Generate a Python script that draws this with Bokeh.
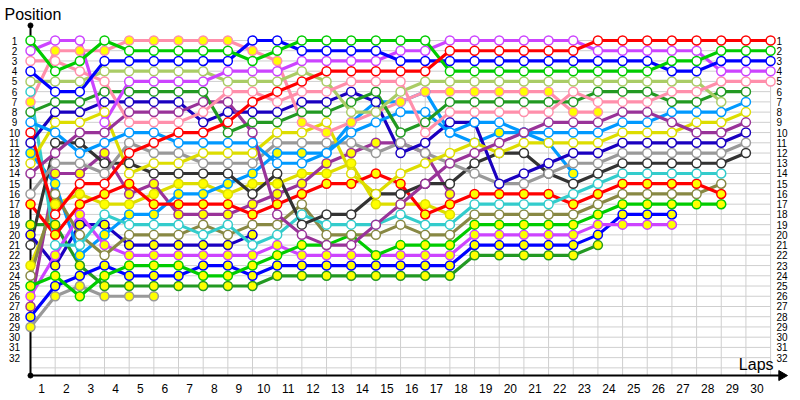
from bokeh.plotting import figure
from bokeh.models import Range1d
from bokeh.embed import file_html
from bokeh.resources import INLINE
from bokeh.core.properties import value

N = None
laps = list(range(0, 31))
lap_labels = [str(k) for k in range(1, 31)]
pos_labels = [str(k) for k in range(1, 33)]

# positions at lap 0..30 (None = not running)
red_w    = [10,18,15,15,12,11,10,10,9,7,6,5,4,4,4,4,4,2,2,2,2,2,2,1,1,1,1,1,1,1,1]
green_w  = [1,4,3,1,2,2,2,2,2,3,2,1,1,1,1,1,1,4,4,4,4,4,4,4,4,4,3,3,2,2,2]
blue_w   = [4,6,6,3,3,3,3,3,3,1,1,2,2,2,2,3,3,3,3,3,3,3,3,3,3,3,4,4,3,3,3]
purple_w = [2,1,1,9,5,5,5,5,4,4,4,3,3,3,3,2,2,1,1,1,1,1,1,2,2,2,2,2,4,4,4]
pink_w   = [3,3,4,5,9,9,9,8,6,6,7,6,6,5,5,5,10,8,8,8,8,8,6,7,7,7,6,6,5,5,5]
pink_y   = [7,2,2,2,1,1,1,1,1,2,3,9,10,9,8,7,6,6,6,6,6,6,8,8,N,N,N,N,N,N,N]
ygreen_w = [5,5,5,4,4,4,4,4,5,5,5,4,5,8,8,6,5,5,5,5,5,5,5,5,5,5,5,5,7,N,N]
dgreen_w = [8,7,7,6,6,6,6,6,10,9,9,8,8,7,6,10,9,7,7,7,7,7,7,6,6,6,7,7,6,6,N]
lblue_w  = [9,10,12,11,10,10,11,11,11,11,13,13,12,10,9,8,8,10,9,9,10,10,10,10,9,9,8,8,8,7,N]
lblue_y  = [12,15,22,20,18,18,16,16,15,14,12,12,12,9,7,7,6,10,11,10,10,11,14,N,N,N,N,N,N,N,N]
dblue_w  = [11,8,8,7,7,7,7,9,8,8,8,7,7,6,7,12,11,9,9,15,14,13,12,12,11,11,11,11,11,10,N]
dblue_y  = [20,23,19,19,21,21,21,21,21,20,N,N,N,N,N,N,N,N,N,N,N,N,N,N,N,N,N,N,N,N,N]
dpurple_w= [14,12,10,10,8,8,8,7,7,10,18,20,21,21,19,17,15,13,12,11,10,9,9,9,8,8,9,10,10,9,N]
dpurple_y= [27,14,14,12,16,15,18,18,18,17,16,15,13,12,11,11,12,16,N,N,N,N,N,N,N,N,N,N,N,N,N]
yellow_w = [13,9,9,8,14,13,13,12,12,12,10,10,9,14,16,14,13,12,11,12,11,11,11,11,10,10,10,9,9,8,N]
yellow_y = [23,17,16,17,17,16,15,15,16,15,15,14,14,13,17,17,17,18,N,N,N,N,N,N,N,N,N,N,N,N,N]
gray_w   = [16,13,13,14,11,12,12,13,13,13,11,11,11,11,12,11,12,13,14,15,15,14,13,13,12,12,12,12,12,11,N]
gray_y   = [29,26,25,26,26,26,N,N,N,N,N,N,N,N,N,N,N,N,N,N,N,N,N,N,N,N,N,N,N,N,N]
dgray_w  = [21,11,11,13,13,14,14,14,14,16,14,19,18,18,16,16,15,15,13,12,12,14,15,14,13,13,13,13,13,12,N]
cyan_w   = [6,21,21,18,19,19,19,20,19,21,20,18,19,19,19,18,19,19,17,17,17,17,16,15,14,14,14,14,14,N,N]
olive_w  = [24,16,20,22,20,20,20,19,20,19,19,17,20,20,20,19,20,20,18,18,18,18,18,17,16,16,16,16,15,N,N]
red_y    = [17,20,17,16,15,17,17,17,17,18,17,16,15,15,14,15,18,17,16,16,16,16,17,16,15,15,15,15,16,N,N]
green_y  = [25,24,26,24,23,23,23,24,24,23,22,21,21,20,22,21,21,21,19,19,19,19,19,18,17,17,17,17,17,N,N]
purple_y = [26,22,18,21,22,22,22,22,22,22,21,22,22,22,22,22,22,22,20,20,20,20,20,19,19,19,19,N,N,N,N]
blue_y   = [28,25,24,23,24,24,24,23,23,24,23,23,23,23,23,23,23,23,21,21,21,21,21,20,18,18,18,N,N,N,N]
dgreen_y = [19,19,23,25,25,25,25,25,25,25,24,24,24,24,24,24,24,24,22,22,22,22,22,21,N,N,N,N,N,N,N]

RED, GREEN, BLUE, PURPLE, PINK = "#ff0000", "#00cc00", "#0000ff", "#cc44ff", "#ff8fab"
YGREEN, DGREEN, LBLUE, DBLUE = "#aacc66", "#229922", "#0099ff", "#1a00c0"
DPURPLE, YELLOW, GRAY, DGRAY, CYAN, OLIVE = "#993399", "#dddd00", "#999999", "#333333", "#33cccc", "#888844"
W, Y = "#ffffff", "#ffff00"

drivers = [
    (GRAY, Y, gray_y), (DBLUE, Y, dblue_y), (YELLOW, Y, yellow_y), (DPURPLE, Y, dpurple_y),
    (LBLUE, Y, lblue_y), (DGREEN, Y, dgreen_y), (BLUE, Y, blue_y), (PURPLE, Y, purple_y),
    (GREEN, Y, green_y), (OLIVE, W, olive_w), (RED, Y, red_y), (CYAN, W, cyan_w),
    (DGRAY, W, dgray_w), (GRAY, W, gray_w), (DBLUE, W, dblue_w), (YELLOW, W, yellow_w),
    (LBLUE, W, lblue_w), (DPURPLE, W, dpurple_w), (PINK, Y, pink_y), (DGREEN, W, dgreen_w),
    (YGREEN, W, ygreen_w), (PINK, W, pink_w), (PURPLE, W, purple_w), (BLUE, W, blue_w),
    (GREEN, W, green_w), (RED, W, red_w),
]

# frame: lap L -> x = 30 + 24.67 L ; position P -> y = 40 + 10.23 (P - 1)
p = figure(width=800, height=400, output_backend="svg", toolbar_location=None,
           x_range=Range1d(-1.216, 31.212), y_range=Range1d(36.19, -2.910),
           min_border=0, min_border_left=0, min_border_right=0,
           min_border_top=0, min_border_bottom=0)
p.outline_line_color = None
p.xaxis.visible = False
p.yaxis.visible = False
p.xgrid.visible = False
p.ygrid.visible = False

GRID = "#cfcfcf"
rows = list(range(1, 34))
p.segment(x0=[0] * len(rows), y0=rows, x1=[30] * len(rows), y1=rows, line_color=GRID, line_width=1)
cols = list(range(1, 31))
p.segment(x0=cols, y0=[1] * len(cols), x1=cols, y1=[33.75] * len(cols), line_color=GRID, line_width=1)

# axes
p.segment(x0=[0, 0], y0=[-0.47, 33.75], x1=[0, 30.4], y1=[33.75, 33.75], line_color="black", line_width=2)
p.scatter(x=[0, 0], y=[-0.47, 33.75], size=5, color="black")
p.scatter(x=[30.45], y=[33.75], marker="triangle", angle=-1.5708, size=10, color="black")

for color, fill, pos in drivers:
    xs = [l for l, v in zip(laps, pos) if v is not None]
    ys = [v for v in pos if v is not None]
    p.line(x=xs, y=ys, line_color=color, line_width=3.2)
for color, fill, pos in drivers:
    xs = [l for l, v in zip(laps, pos) if v is not None]
    ys = [v for v in pos if v is not None]
    p.scatter(x=xs, y=ys, size=9, line_color=color, fill_color=fill, line_width=1.5)

FONT = value("Liberation Sans")
p.text(x=[-0.65] * 32, y=list(range(1, 33)), text=pos_labels, text_font=FONT, text_font_size="10px",
       text_align="center", text_baseline="middle", text_color="#000000")
p.text(x=[30.24] * 32, y=list(range(1, 33)), text=pos_labels, text_font=FONT, text_font_size="10px",
       text_align="left", text_baseline="middle", text_color="#000000")
p.text(x=[k - 0.55 for k in range(1, 31)], y=[35.0] * 30, text=lap_labels, text_font=FONT,
       text_font_size="12px", text_align="center", text_baseline="middle", text_color="#000000")
p.text(x=[-1.054], y=[-1.54], text=["Position"], text_font=FONT, text_font_size="16px",
       text_align="left", text_baseline="middle", text_color="#000000")
p.text(x=[30.12], y=[32.67], text=["Laps"], text_font=FONT, text_font_size="16px",
       text_align="right", text_baseline="middle", text_color="#000000")

open("out.html", "w").write(file_html(p, INLINE))
